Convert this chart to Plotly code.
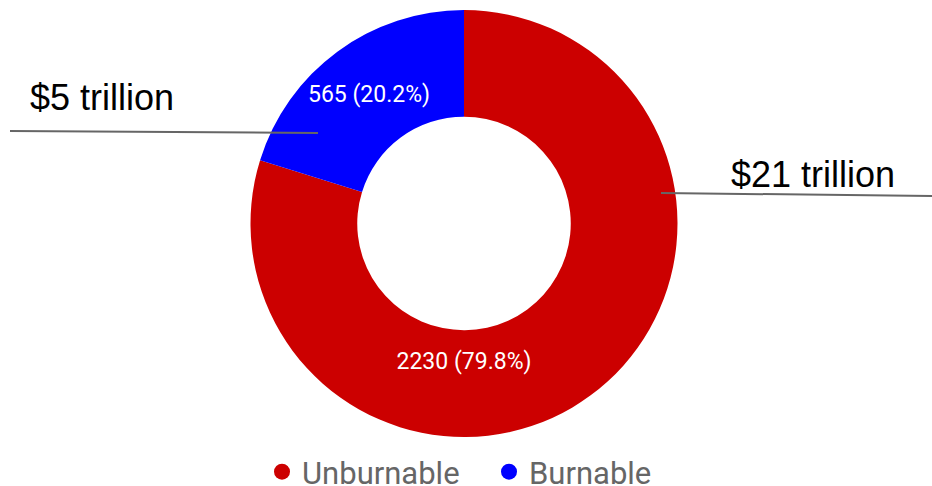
import plotly.graph_objects as go

labels = ["Unburnable", "Burnable"]
values = [2230, 565]
colors = ["#cc0000", "#0000ff"]
callouts = ["$21 trillion", "$5 trillion"]

W, H = 932, 486

fig = go.Figure()
fig.add_trace(go.Pie(
    labels=labels, values=values, sort=False, direction="clockwise", rotation=0,
    hole=0.5, marker=dict(colors=colors, line=dict(width=0)),
    texttemplate="%{value} (%{percent:.1%})", textposition="inside",
    insidetextorientation="horizontal",
    insidetextfont=dict(family="Roboto", size=23, color="white"),
    showlegend=False, hoverinfo="label+value+percent",
    domain=dict(x=[0, 928 / W], y=[(H - 437) / H, (H - 10) / H]),
))

for lab, col in zip(labels, colors):
    fig.add_trace(go.Scatter(
        x=[None], y=[None], mode="markers", name=lab,
        marker=dict(symbol="circle", size=20, color=col),
    ))

def px(x, y):
    return x / W, (H - y) / H

# callout lines
x0, y0 = px(10, 131); x1, y1 = px(318, 133)
fig.add_shape(type="line", xref="paper", yref="paper", x0=x0, y0=y0, x1=x1, y1=y1,
              line=dict(color="#666666", width=2))
x0, y0 = px(661, 193); x1, y1 = px(932, 196)
fig.add_shape(type="line", xref="paper", yref="paper", x0=x0, y0=y0, x1=x1, y1=y1,
              line=dict(color="#666666", width=2))

ax, ay = px(102, 98)
fig.add_annotation(text=callouts[1], x=ax, y=ay, xref="paper", yref="paper",
                   showarrow=False, xanchor="center", yanchor="middle",
                   font=dict(family="Liberation Sans, Arial", size=36, color="black"))
ax, ay = px(813, 174)
fig.add_annotation(text=callouts[0], x=ax, y=ay, xref="paper", yref="paper",
                   showarrow=False, xanchor="center", yanchor="middle",
                   font=dict(family="Liberation Sans, Arial", size=36, color="black"))

fig.update_layout(
    width=W, height=H, margin=dict(l=0, r=0, t=0, b=0, autoexpand=False),
    paper_bgcolor="white", plot_bgcolor="white",
    xaxis=dict(visible=False), yaxis=dict(visible=False),
    legend=dict(orientation="h", x=262 / W, xanchor="left", y=(H - 472) / H, yanchor="middle",
                font=dict(family="Roboto", size=31, color="#666666"),
                bgcolor="rgba(0,0,0,0)", itemwidth=30, entrywidth=182),
    uniformtext=dict(minsize=23, mode="show"),
)

fig.write_html("out.html", config={"displayModeBar": False},
               post_script="document.body.style.margin='0';document.body.style.overflow='hidden';")
